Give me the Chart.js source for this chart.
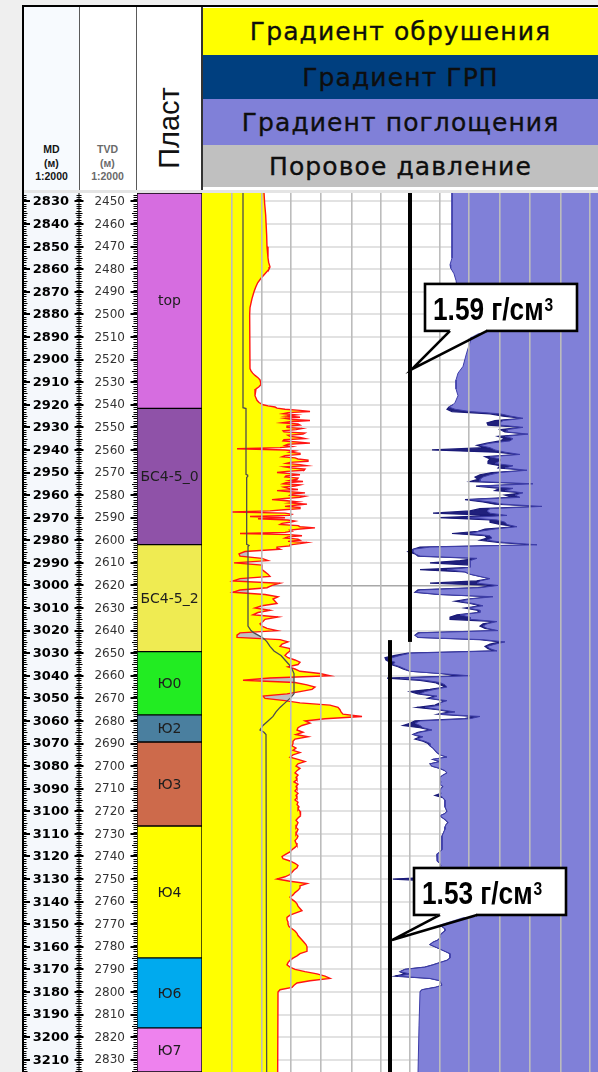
<!DOCTYPE html>
<html lang="ru">
<head>
<meta charset="utf-8">
<title>Градиенты давлений по разрезу</title>
<script src="https://cdn.jsdelivr.net/npm/chart.js@4.4.1/dist/chart.umd.min.js"></script>
<style>
  html, body { margin: 0; padding: 0; }
  body { width: 598px; height: 1072px; background: #efefef; position: relative; overflow: hidden; font-family: "DejaVu Sans", sans-serif; }
  .abs { position: absolute; box-sizing: border-box; }
  .legend-row { position: absolute; left: 203px; width: 395px; display: flex; align-items: center; justify-content: center;
    font: 25px "DejaVu Sans", sans-serif; letter-spacing: 1.1px; color: #0e0e0e; white-space: nowrap;
    -webkit-text-stroke: 0.35px #0e0e0e; }
  .depth-head { position: absolute; top: 143px; width: 55px; text-align: center; font: bold 10.5px "Liberation Sans", sans-serif; line-height: 13.5px; }
  canvas { position: absolute; display: block; background: #fff; }
</style>
</head>
<body>
<!-- header frame -->
<div class="abs" style="left:22px;top:5px;width:576px;height:188px;background:#fff;"></div>
<div class="abs" style="left:24px;top:7px;width:55px;height:183px;background:#f7fafe;"></div>
<div class="abs" style="left:22px;top:5px;width:576px;height:2px;background:#000;"></div>
<div class="abs" style="left:22px;top:5px;width:2px;height:188px;background:#000;"></div>
<div class="abs" style="left:79px;top:7px;width:1px;height:183px;background:#5a5a5a;"></div>
<div class="abs" style="left:136px;top:7px;width:1px;height:183px;background:#5a5a5a;"></div>
<div class="abs" style="left:201px;top:7px;width:2px;height:183px;background:#333;"></div>

<div class="depth-head" style="left:24px;color:#141414;">MD<br>(м)<br>1:2000</div>
<div class="depth-head" style="left:80px;color:#6a6a6a;">TVD<br>(м)<br>1:2000</div>
<div class="abs" style="left:168.5px;top:128px;transform:translate(-50%,-50%) rotate(-90deg);font:29px 'Liberation Sans',sans-serif;color:#111;white-space:nowrap;">Пласт</div>

<div class="legend-row" style="top:8px;height:47px;background:#ffff00;">Градиент обрушения</div>
<div class="legend-row" style="top:55px;height:44px;background:#003f7f;">Градиент ГРП</div>
<div class="legend-row" style="top:99px;height:46px;background:#8080d8;">Градиент поглощения</div>
<div class="legend-row" style="top:145px;height:42px;background:#c0c0c0;">Поровое давление</div>

<div class="abs" style="left:24px;top:190px;width:574px;height:3px;background:#e4e4e4;"></div>

<canvas id="depthCanvas" width="180" height="879" style="left:22px;top:193px;"></canvas>
<canvas id="logCanvas" width="396" height="879" style="left:202px;top:193px;"></canvas>

<script>
// ---------- depth reference ----------
const depthTop = 2826.24;     // MD at the top of the log window, m
const depthBase = 3215.43;    // MD at the bottom of the log window, m
const tvdShift = 380;         // TVD = MD - 380 m over this interval

const mdTicks = [2830, 2840, 2850, 2860, 2870, 2880, 2890, 2900, 2910, 2920, 2930, 2940, 2950, 2960, 2970,
  2980, 2990, 3000, 3010, 3020, 3030, 3040, 3050, 3060, 3070, 3080, 3090, 3100, 3110, 3120, 3130, 3140,
  3150, 3160, 3170, 3180, 3190, 3200, 3210];
const tvdTicks = [2450, 2460, 2470, 2480, 2490, 2500, 2510, 2520, 2530, 2540, 2550, 2560, 2570, 2580, 2590,
  2600, 2610, 2620, 2630, 2640, 2650, 2660, 2670, 2680, 2690, 2700, 2710, 2720, 2730, 2740, 2750, 2760,
  2770, 2780, 2790, 2800, 2810, 2820, 2830];

// ---------- formations ----------
const formationNames = ['top', 'БС4-5_0', 'БС4-5_2', 'Ю0', 'Ю2', 'Ю3', 'Ю4', 'Ю6', 'Ю7'];
const formationTops = [2826.24, 2921.6, 2981.9, 3029.3, 3057.3, 3069.3, 3106.5, 3164.9, 3195.9];
const formationBases = [2921.6, 2981.9, 3029.3, 3057.3, 3069.3, 3106.5, 3164.9, 3195.9, 3215.43];
const formationColors = ['#d66de0', '#8f52a8', '#efeb52', '#22ec22', '#4a7f9f', '#cd6a4b', '#ffff00', '#00aaee', '#ee82ee'];

// ---------- gradient axis (g/cm3) ----------
const gradMin = 0.966;
const gradMax = 2.154;
const gradGrid = [1.056, 1.146, 1.233, 1.323, 1.416, 1.503, 1.590, 1.680, 1.767, 1.860, 1.950, 2.043, 2.130];

// Collapse gradient (Градиент обрушения)
const collapseUpperMD = [2826, 2831, 2836, 2845, 2850, 2855, 2857, 2859, 2860, 2862, 2864, 2866, 2868, 2870,
  2873, 2877, 2880, 2904, 2905, 2906, 2907, 2908, 2909, 2911, 2912, 2913, 2916, 2918, 2919];
const collapseUpper = [1.152, 1.154, 1.157, 1.160, 1.161, 1.164, 1.166, 1.170, 1.167, 1.155, 1.143, 1.133, 1.127, 1.122,
  1.116, 1.110, 1.109, 1.110, 1.113, 1.118, 1.125, 1.134, 1.140, 1.143, 1.137, 1.128, 1.125, 1.131, 1.137];
// 0.5 m samples, 2920.0 ... 2984.0 m
const collapseFineTop = 2920;
const collapseFine = [
  1.149, 1.164, 1.185, 1.191, 1.215, 1.260, 1.290, 1.224, 1.209, 1.248,
  1.221, 1.260, 1.215, 1.236, 1.290, 1.230, 1.206, 1.254, 1.260, 1.221,
  1.221, 1.266, 1.248, 1.209, 1.212, 1.275, 1.269, 1.224, 1.230, 1.260,
  1.275, 1.212, 1.209, 1.251, 1.290, 1.224, 1.215, 1.236, 1.200, 1.071,
  1.215, 1.245, 1.230, 1.260, 1.260, 1.215, 1.206, 1.245, 1.254, 1.284,
  1.284, 1.230, 1.218, 1.260, 1.281, 1.215, 1.236, 1.275, 1.272, 1.221,
  1.191, 1.230, 1.260, 1.218, 1.215, 1.254, 1.251, 1.230, 1.269, 1.218,
  1.209, 1.260, 1.245, 1.212, 1.224, 1.254, 1.191, 1.230, 1.275, 1.236,
  1.230, 1.275, 1.260, 1.215, 1.176, 1.221, 1.254, 1.230, 1.281, 1.245,
  1.215, 1.260, 1.260, 1.212, 1.170, 1.056, 1.215, 1.236, 1.230, 1.110,
  1.215, 1.134, 1.224, 1.245, 1.230, 1.206, 1.200, 1.254, 1.260, 1.305,
  1.260, 1.230, 1.236, 1.215, 1.080, 1.230, 1.266, 1.224, 1.215, 1.254,
  1.260, 1.224, 1.281, 1.260, 1.230, 1.230, 1.191, 1.191, 1.200];
// 1 m samples, 2985 ... 3180 m
const collapseSampledTop = 2985;
const collapseSampled = [
  1.095, 1.077, 1.080, 1.146, 1.164, 1.062,
  1.146, 1.146, 1.146, 1.155, 1.164, 1.170, 1.080, 1.059, 1.200, 1.176,
  1.161, 1.080, 1.059, 1.155, 1.194, 1.179, 1.185, 1.191, 1.146, 1.125,
  1.170, 1.134, 1.119, 1.194, 1.155, 1.149, 1.140, 1.146, 1.161, 1.191,
  1.080, 1.071, 1.071, 1.200, 1.224, 1.206, 1.200, 1.230, 1.230, 1.221,
  1.215, 1.224, 1.245, 1.260, 1.254, 1.224, 1.245, 1.260, 1.320, 1.350,
  1.170, 1.089, 1.245, 1.281, 1.305, 1.296, 1.260, 1.221, 1.149, 1.155,
  1.215, 1.260, 1.350, 1.374, 1.380, 1.383, 1.389, 1.446, 1.335, 1.275,
  1.290, 1.266, 1.254, 1.251, 1.269, 1.248, 1.284, 1.245, 1.239, 1.239,
  1.236, 1.248, 1.239, 1.260, 1.239, 1.230, 1.254, 1.275, 1.254, 1.248,
  1.260, 1.251, 1.245, 1.254, 1.248, 1.251, 1.242, 1.254, 1.248, 1.251,
  1.245, 1.254, 1.248, 1.251, 1.245, 1.254, 1.251, 1.257, 1.254, 1.260,
  1.260, 1.263, 1.254, 1.248, 1.254, 1.251, 1.248, 1.254, 1.251, 1.248,
  1.254, 1.251, 1.245, 1.248, 1.251, 1.245, 1.236, 1.230, 1.218, 1.206,
  1.209, 1.230, 1.245, 1.254, 1.251, 1.242, 1.236, 1.230, 1.215, 1.191,
  1.230, 1.281, 1.260, 1.260, 1.254, 1.245, 1.239, 1.230, 1.236, 1.245,
  1.251, 1.254, 1.260, 1.266, 1.248, 1.230, 1.221, 1.221, 1.224, 1.224,
  1.227, 1.236, 1.245, 1.251, 1.254, 1.260, 1.266, 1.272, 1.278, 1.281,
  1.281, 1.281, 1.260, 1.251, 1.239, 1.230, 1.224, 1.221, 1.230, 1.245,
  1.275, 1.311, 1.335, 1.350, 1.290, 1.251, 1.242, 1.236, 1.200, 1.194];
const collapseLowerMD = [3216];
const collapseLower = [1.193];

// Pore pressure gradient (Поровое давление)
const poreMD = [2826, 2921.3, 2921.7, 2950.8, 2951.2, 2951.8, 2952.2, 2981.8, 2982.3, 2982.8, 3018, 3020, 3021,
  3022, 3023, 3024, 3025, 3027, 3029, 3031, 3033, 3035, 3037, 3039, 3048, 3050, 3052, 3054, 3056, 3058,
  3060, 3062, 3064, 3065, 3066, 3216];
const poreGrad = [1.089, 1.089, 1.098, 1.098, 1.103, 1.103, 1.100, 1.100, 1.107, 1.104, 1.104, 1.113, 1.122,
  1.134, 1.146, 1.155, 1.161, 1.170, 1.182, 1.203, 1.215, 1.227, 1.236, 1.242, 1.242, 1.230, 1.215, 1.200,
  1.188, 1.179, 1.164, 1.149, 1.140, 1.152, 1.158, 1.160];

// 1 m sampled interval of the loss and fracture logs, 2920 ... 3180 m
const sampleTop = 2920;

// Loss gradient (Градиент поглощения)
const lossUpperMD = [2826, 2855, 2858, 2859.5, 2862, 2865, 2870, 2888, 2891, 2897, 2903, 2906, 2909, 2913, 2916, 2918, 2919];
const lossUpper = [1.716, 1.716, 1.710, 1.712, 1.722, 1.728, 1.734, 1.773, 1.773, 1.760, 1.749, 1.734, 1.728, 1.728, 1.734, 1.728, 1.725];
const lossSampled = [
  1.719, 1.707, 1.725, 1.770, 1.860, 1.890, 1.929, 1.869, 1.860, 1.860,
  1.929, 1.881, 1.881, 1.944, 1.875, 1.899, 1.890, 1.830, 1.800, 1.830,
  1.845, 1.875, 1.920, 1.830, 1.860, 1.860, 1.845, 1.899, 1.875, 1.941,
  1.860, 1.830, 1.809, 1.800, 1.800, 1.959, 1.800, 1.899, 1.875, 1.929,
  1.905, 1.920, 1.770, 1.830, 1.869, 1.986, 1.830, 1.821, 1.830, 1.881,
  1.761, 1.851, 1.875, 1.881, 1.911, 1.845, 1.800, 1.770, 1.830, 1.836,
  1.821, 1.875, 1.971, 1.650, 1.599, 1.599, 1.605, 1.620, 1.791, 1.770,
  1.770, 1.770, 1.770, 1.701, 1.755, 1.770, 1.800, 1.830, 1.800, 1.791,
  1.854, 1.800, 1.620, 1.605, 1.680, 1.839, 1.770, 1.740, 1.779, 1.809,
  1.764, 1.800, 1.800, 1.740, 1.770, 1.770, 1.851, 1.821, 1.809, 1.821,
  1.854, 1.620, 1.605, 1.614, 1.809, 1.875, 1.845, 1.821, 1.830, 1.851,
  1.590, 1.560, 1.536, 1.524, 1.545, 1.539, 1.560, 1.575, 1.590, 1.680,
  1.770, 1.560, 1.635, 1.680, 1.695, 1.701, 1.665, 1.635, 1.620, 1.671,
  1.650, 1.701, 1.680, 1.680, 1.635, 1.680, 1.725, 1.680, 1.800, 1.770,
  1.620, 1.605, 1.620, 1.629, 1.656, 1.620, 1.599, 1.629, 1.611, 1.635,
  1.650, 1.650, 1.659, 1.665, 1.671, 1.680, 1.701, 1.659, 1.680, 1.650,
  1.656, 1.680, 1.695, 1.701, 1.689, 1.680, 1.680, 1.683, 1.680, 1.689,
  1.683, 1.680, 1.683, 1.680, 1.689, 1.695, 1.695, 1.695, 1.695, 1.698,
  1.701, 1.695, 1.680, 1.689, 1.698, 1.704, 1.698, 1.695, 1.695, 1.692,
  1.689, 1.686, 1.686, 1.686, 1.686, 1.686, 1.686, 1.686, 1.680, 1.671,
  1.671, 1.671, 1.674, 1.680, 1.683, 1.680, 1.680, 1.683, 1.680, 1.680,
  1.680, 1.680, 1.683, 1.686, 1.683, 1.680, 1.683, 1.686, 1.683, 1.680,
  1.683, 1.686, 1.683, 1.680, 1.677, 1.674, 1.671, 1.680, 1.695, 1.680,
  1.671, 1.686, 1.695, 1.695, 1.686, 1.680, 1.680, 1.674, 1.659, 1.650,
  1.665, 1.680, 1.695, 1.710, 1.710, 1.710, 1.701, 1.680, 1.659, 1.635,
  1.575, 1.560, 1.590, 1.554, 1.650, 1.680, 1.683, 1.686, 1.665, 1.626,
  1.620];
const lossLowerMD = [3195, 3216];
const lossLower = [1.617, 1.614];

// Fracture gradient (Градиент ГРП)
const fracSampled = [
  1.719, 1.707, 1.701, 1.716, 1.830, 1.869, 1.929, 1.845, 1.821, 1.824,
  1.929, 1.860, 1.875, 1.944, 1.854, 1.875, 1.860, 1.821, 1.791, 1.815,
  1.656, 1.845, 1.920, 1.815, 1.830, 1.824, 1.824, 1.860, 1.854, 1.941,
  1.836, 1.800, 1.785, 1.794, 1.770, 1.959, 1.788, 1.860, 1.845, 1.929,
  1.875, 1.896, 1.755, 1.809, 1.845, 1.986, 1.800, 1.770, 1.659, 1.845,
  1.680, 1.830, 1.830, 1.860, 1.911, 1.815, 1.794, 1.716, 1.815, 1.821,
  1.800, 1.860, 1.971, 1.620, 1.599, 1.584, 1.605, 1.614, 1.791, 1.740,
  1.650, 1.770, 1.770, 1.620, 1.755, 1.770, 1.800, 1.830, 1.790, 1.650,
  1.845, 1.794, 1.614, 1.605, 1.674, 1.830, 1.764, 1.725, 1.770, 1.800,
  1.755, 1.794, 1.794, 1.731, 1.710, 1.710, 1.851, 1.809, 1.800, 1.815,
  1.854, 1.614, 1.605, 1.614, 1.800, 1.860, 1.830, 1.815, 1.824, 1.845,
  1.584, 1.545, 1.515, 1.518, 1.530, 1.533, 1.554, 1.569, 1.590, 1.680,
  1.740, 1.521, 1.620, 1.665, 1.680, 1.695, 1.650, 1.590, 1.614, 1.665,
  1.644, 1.695, 1.680, 1.665, 1.611, 1.674, 1.710, 1.674, 1.779, 1.755,
  1.605, 1.590, 1.569, 1.620, 1.650, 1.614, 1.599, 1.620, 1.605, 1.629,
  1.644, 1.650, 1.659, 1.665, 1.671, 1.680, 1.701, 1.659, 1.680, 1.650,
  1.656, 1.680, 1.695, 1.701, 1.689, 1.680, 1.680, 1.683, 1.680, 1.689,
  1.683, 1.680, 1.683, 1.665, 1.689, 1.695, 1.695, 1.695, 1.695, 1.698,
  1.701, 1.695, 1.680, 1.689, 1.698, 1.704, 1.698, 1.695, 1.695, 1.692,
  1.689, 1.686, 1.686, 1.686, 1.686, 1.686, 1.686, 1.686, 1.680, 1.671,
  1.671, 1.671, 1.674, 1.680, 1.683, 1.680, 1.680, 1.683, 1.680, 1.680,
  1.539, 1.680, 1.683, 1.686, 1.683, 1.680, 1.683, 1.686, 1.683, 1.680,
  1.683, 1.686, 1.683, 1.680, 1.677, 1.674, 1.671, 1.680, 1.695, 1.680,
  1.671, 1.686, 1.695, 1.695, 1.686, 1.680, 1.680, 1.674, 1.659, 1.650,
  1.665, 1.680, 1.695, 1.710, 1.710, 1.710, 1.701, 1.680, 1.659, 1.635,
  1.575, 1.560, 1.575, 1.545, 1.650, 1.680, 1.683, 1.686, 1.665, 1.626,
  1.620];

// Design mud-weight intervals (value, top MD, base MD)
const mudValues = [1.59, 1.53];
const mudTopMD = [2826.24, 3024.2];
const mudBaseMD = [3025.0, 3215.43];

// ---------- callout layout (data coordinates) ----------
const calloutLayout = [
  { boxLeft: 1.635, boxRight: 2.091, boxTop: 2866.5, boxBottom: 2887.3, baseFrom: 1.710, baseTo: 1.821, tipMD: 2904.2 },
  { boxLeft: 1.602, boxRight: 2.058, boxTop: 3125.1, boxBottom: 3145.9, baseFrom: 1.680, baseTo: 1.791, tipMD: 3157.0 }
];

function toPoints(mds, vals) { return mds.map((d, i) => ({ x: vals[i], y: d })); }
function sampledPoints(vals, top, step) { return vals.map((v, i) => ({ x: v, y: top + i * step })); }

const collapsePts = [
  ...toPoints(collapseUpperMD, collapseUpper),
  ...sampledPoints(collapseFine, collapseFineTop, 0.5),
  ...sampledPoints(collapseSampled, collapseSampledTop, 1),
  ...toPoints(collapseLowerMD, collapseLower)
];
const porePts = toPoints(poreMD, poreGrad);
const lossPts = [...toPoints(lossUpperMD, lossUpper), ...sampledPoints(lossSampled, sampleTop, 1), ...toPoints(lossLowerMD, lossLower)];
const fracPts = sampledPoints(fracSampled, sampleTop, 1);

// ---------- depth / formation track ----------
const depthDecor = {
  id: 'depthDecor',
  beforeDraw(chart) {
    const { ctx } = chart;
    const md = chart.scales.md;
    ctx.save();
    ctx.fillStyle = '#f5f8fc';
    ctx.fillRect(0, 0, md.right, chart.height);
    ctx.restore();
  },
  afterDatasetsDraw(chart) {
    const { ctx } = chart;
    ctx.save();
    ctx.font = '14px "DejaVu Sans", sans-serif';
    ctx.fillStyle = '#1e1e1e';
    ctx.textAlign = 'center';
    ctx.textBaseline = 'middle';
    chart.data.datasets.forEach((ds, i) => {
      const bar = chart.getDatasetMeta(i).data[0];
      const { x, y, base } = bar.getProps(['x', 'y', 'base'], true);
      ctx.fillText(ds.label, x, (y + base) / 2 + 1);
    });
    ctx.restore();
  },
  afterDraw(chart) {
    const { ctx } = chart;
    const md = chart.scales.md;
    const tvd = chart.scales.tvd;
    const h = chart.height;
    ctx.save();
    // depth labels
    ctx.textAlign = 'right';
    ctx.textBaseline = 'middle';
    ctx.fillStyle = '#000';
    ctx.font = 'bold 13px "DejaVu Sans", sans-serif';
    mdTicks.forEach(v => ctx.fillText(String(v), md.right - 10, md.getPixelForValue(v) + 0.5));
    ctx.fillStyle = '#333';
    ctx.font = '12px "DejaVu Sans", sans-serif';
    tvdTicks.forEach(v => ctx.fillText(String(v), tvd.right - 12, tvd.getPixelForValue(v) + 0.5));
    // frame and tick ladders
    ctx.fillStyle = '#000';
    ctx.fillRect(0, 0, 2, h);
    ctx.fillRect(md.right - 0.5, 0, 1, h);
    for (let d = Math.ceil(md.min); d <= md.max; d++) {
      const y = Math.round(md.getPixelForValue(d));
      const major = d % 10 === 0;
      const mid = d % 5 === 0;
      if (major) {
        ctx.fillRect(2, y - 1, 6, 2);
        ctx.fillRect(md.right - 4.5, y - 1, 9, 2);
        ctx.fillRect(tvd.right - 6.5, y - 1, 6.5, 2);
      } else {
        ctx.fillRect(2, y, mid ? 3.5 : 2.5, 1);
        ctx.fillRect(md.right - (mid ? 3.5 : 2.5), y, mid ? 7 : 5, 1);
        ctx.fillRect(tvd.right - (mid ? 5 : 3.5), y, mid ? 5 : 3.5, 1);
      }
    }
    ctx.restore();
  }
};

new Chart(document.getElementById('depthCanvas'), {
  type: 'bar',
  data: {
    labels: ['Пласт'],
    datasets: formationNames.map((name, i) => ({
      label: name,
      data: [[formationTops[i], formationBases[i]]],
      backgroundColor: formationColors[i],
      borderColor: '#000',
      borderWidth: 1,
      borderSkipped: false,
      barPercentage: 1,
      categoryPercentage: 1,
      grouped: false,
      yAxisID: 'md'
    }))
  },
  options: {
    responsive: false,
    animation: false,
    devicePixelRatio: 1,
    layout: { padding: 0, autoPadding: false },
    plugins: { legend: { display: false }, tooltip: { enabled: false } },
    scales: {
      x: { display: false },
      md: {
        type: 'linear', position: 'left', weight: 2, reverse: true, min: depthTop, max: depthBase,
        grid: { display: false, drawTicks: false }, border: { display: false },
        ticks: { display: false },
        afterBuildTicks: s => { s.ticks = mdTicks.map(v => ({ value: v })); },
        afterFit: s => { s.width = 57; }
      },
      tvd: {
        type: 'linear', position: 'left', weight: 1, reverse: true, min: depthTop - tvdShift, max: depthBase - tvdShift,
        grid: { display: false, drawTicks: false }, border: { display: false },
        ticks: { display: false },
        afterBuildTicks: s => { s.ticks = tvdTicks.map(v => ({ value: v })); },
        afterFit: s => { s.width = 58; }
      }
    }
  },
  plugins: [depthDecor]
});

// ---------- gradient track ----------
const mudMarkers = {
  id: 'mudMarkers',
  afterDraw(chart) {
    const { ctx } = chart;
    const xs = chart.scales.x;
    const ys = chart.scales.y;
    ctx.save();
    ctx.fillStyle = '#000';
    mudValues.forEach((v, i) => {
      const x = xs.getPixelForValue(v);
      const y1 = ys.getPixelForValue(mudTopMD[i]);
      const y2 = ys.getPixelForValue(mudBaseMD[i]);
      ctx.fillRect(x - 2, y1, 4, y2 - y1);
    });
    calloutLayout.forEach((c, i) => {
      const v = mudValues[i];
      const left = xs.getPixelForValue(c.boxLeft);
      const right = xs.getPixelForValue(c.boxRight);
      const top = ys.getPixelForValue(c.boxTop);
      const bottom = ys.getPixelForValue(c.boxBottom);
      const b1 = xs.getPixelForValue(c.baseFrom);
      const b2 = xs.getPixelForValue(c.baseTo);
      const tipX = xs.getPixelForValue(v) + 2;
      const tipY = ys.getPixelForValue(c.tipMD);
      ctx.lineWidth = 2.6;
      ctx.strokeStyle = '#000';
      ctx.fillStyle = '#fff';
      ctx.fillRect(left, top, right - left, bottom - top);
      ctx.strokeRect(left, top, right - left, bottom - top);
      ctx.beginPath();
      ctx.moveTo(b1 + 1, bottom - 2);
      ctx.lineTo(tipX, tipY);
      ctx.lineTo(b2 - 1, bottom - 2);
      ctx.closePath();
      ctx.fill();
      ctx.fillRect(b1 + 1, bottom - 2, b2 - b1 - 2, 4);
      ctx.beginPath();
      ctx.moveTo(b1, bottom);
      ctx.lineTo(tipX, tipY);
      ctx.lineTo(b2, bottom);
      ctx.stroke();
      const label = v.toFixed(2) + ' г/см';
      ctx.save();
      ctx.translate(left + 8, top + 36);
      ctx.scale(0.82, 1);
      ctx.fillStyle = '#000';
      ctx.textBaseline = 'alphabetic';
      ctx.font = 'bold 32px "Liberation Sans", Arial, sans-serif';
      ctx.fillText(label, 0, 0);
      const w = ctx.measureText(label).width;
      ctx.font = 'bold 19px "Liberation Sans", Arial, sans-serif';
      ctx.fillText('3', w + 1, -9);
      ctx.restore();
    });
    ctx.restore();
  }
};

new Chart(document.getElementById('logCanvas'), {
  type: 'line',
  data: {
    datasets: [
      { label: 'Поровое давление', data: porePts, borderColor: '#4d4d4d', borderWidth: 1.3, fill: false, order: 0 },
      { label: 'Градиент обрушения', data: collapsePts, borderColor: '#ff1414', borderWidth: 1.4, backgroundColor: '#ffff00', fill: { value: gradMin }, order: 1 },
      { label: 'Поровое давление', data: porePts, borderColor: 'transparent', borderWidth: 1, backgroundColor: '#c0c0c0', fill: { value: gradMin }, order: 2 },
      { label: 'Градиент поглощения', data: lossPts, borderColor: '#3d3da8', borderWidth: 1, backgroundColor: '#8080d8', fill: { value: gradMax }, order: 3 },
      { label: 'Градиент ГРП', data: fracPts, borderColor: '#1a1a78', borderWidth: 1.2, backgroundColor: '#20207c', fill: { value: gradMax }, order: 4 }
    ]
  },
  options: {
    indexAxis: 'y',
    responsive: false,
    animation: false,
    devicePixelRatio: 1,
    layout: { padding: 0, autoPadding: false },
    elements: { point: { radius: 0, hoverRadius: 0 }, line: { tension: 0 } },
    plugins: { legend: { display: false }, tooltip: { enabled: false } },
    scales: {
      x: {
        type: 'linear', position: 'top', min: gradMin, max: gradMax,
        ticks: { display: false }, border: { display: false },
        grid: { color: '#bcbcbc', lineWidth: 1.6, drawTicks: false, z: 1 },
        afterBuildTicks: s => { s.ticks = gradGrid.map(v => ({ value: v })); },
        afterFit: s => { s.height = 0; }
      },
      y: {
        type: 'linear', reverse: true, min: depthTop, max: depthBase,
        ticks: { display: false }, border: { display: false },
        grid: {
          drawTicks: false,
          color: c => (c.tick && c.tick.value % 500 === 0 ? '#a8a8a8' : '#e2e2e2'),
          lineWidth: c => (c.tick && c.tick.value % 500 === 0 ? 1.5 : 2)
        },
        afterBuildTicks: s => { s.ticks = mdTicks.map(v => ({ value: v })); },
        afterFit: s => { s.width = 0; }
      }
    }
  },
  plugins: [mudMarkers]
});
</script>
</body>
</html>
